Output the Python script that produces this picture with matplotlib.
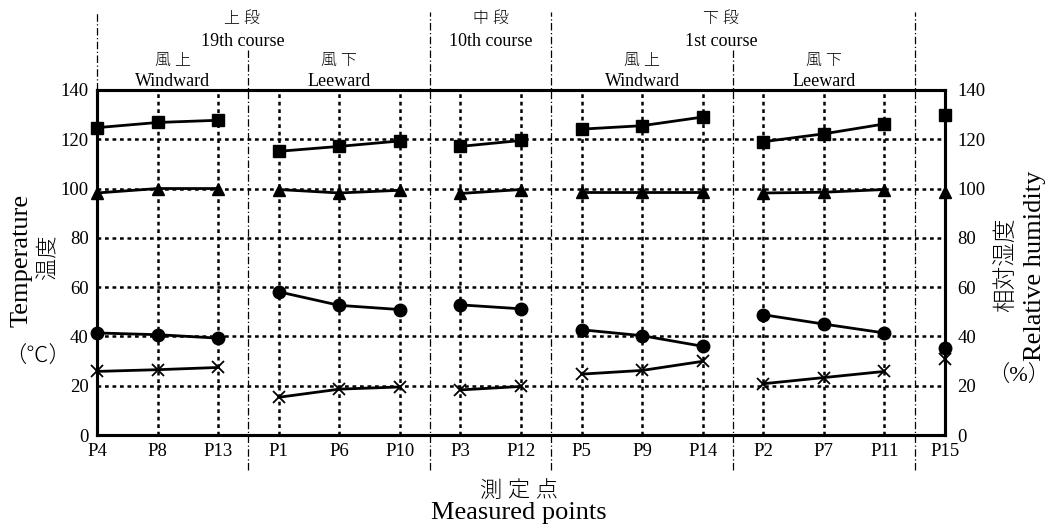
import matplotlib
matplotlib.use('Agg')
import matplotlib.pyplot as plt
import matplotlib.transforms as mtransforms

plt.rcParams['font.family'] = ['Liberation Serif', 'Noto Sans CJK JP', 'DejaVu Sans']

# measured points, in plotting order
points = ['P4', 'P8', 'P13', 'P1', 'P6', 'P10', 'P3', 'P12',
          'P5', 'P9', 'P14', 'P2', 'P7', 'P11', 'P15']
# lines are only drawn inside each group (start index, end index)
groups = [(0, 3), (3, 6), (6, 8), (8, 11), (11, 14), (14, 15)]

sq_vals = [124.7, 126.8, 127.7, 115.1, 117.1, 119.3, 117.1, 119.5,
           124.1, 125.5, 129.0, 119.0, 122.2, 126.2, 129.8]
tri_vals = [98.2, 100.0, 100.0, 99.6, 98.2, 99.3, 98.0, 99.6,
            98.6, 98.6, 98.6, 98.2, 98.5, 99.6, 98.6]
circ_vals = [41.4, 40.7, 39.3, 58.1, 52.6, 50.9, 52.8, 51.2,
             42.7, 40.3, 36.0, 48.8, 45.0, 41.4, 35.3]
cross_vals = [25.8, 26.5, 27.4, 15.3, 18.6, 19.5, 18.3, 19.7,
              24.7, 26.2, 29.9, 20.8, 23.3, 25.8, 30.9]

yticks = [0, 20, 40, 60, 80, 100, 120, 140]

# section headers: (x centre, jp, en)
sections = [(2.4, '上 段', '19th course'), (6.5, '中 段', '10th course'),
            (10.3, '下 段', '1st course')]
subsections = [(1.25, '風 上', 'Windward'), (4.0, '風 下', 'Leeward'),
               (9.0, '風 上', 'Windward'), (12.0, '風 下', 'Leeward')]
major_seps = [5.5, 7.5, 13.5]
minor_seps = [2.5, 10.5]

fig = plt.figure(figsize=(10.5, 5.26), dpi=100)
ax = fig.add_axes([0.0924, 0.173, 0.8076, 0.656])
ax2 = ax.twinx()

x = list(range(len(points)))
ax.set_xlim(0, len(points) - 1)
ax.set_ylim(0, 140)
ax2.set_ylim(0, 140)

# grid
for yv in yticks[1:-1]:
    ax.axhline(yv, color='black', lw=1.8, ls=(0, (1.5, 1.5)), zorder=1)
for xv in x[1:-1]:
    ax.axvline(xv, color='black', lw=1.8, ls=(0, (1.5, 1.5)), zorder=1)

# separators (dash-dot), some running past the frame
trans = mtransforms.blended_transform_factory(ax.transData, ax.transAxes)
dashdot = (0, (6, 2, 1, 2))
for xv in major_seps:
    ax.plot([xv, xv], [-0.10, 1.226], transform=trans, color='black', lw=0.9,
            ls=dashdot, clip_on=False, zorder=1)
for xv in minor_seps:
    ax.plot([xv, xv], [-0.10, 1.116], transform=trans, color='black', lw=0.9,
            ls=dashdot, clip_on=False, zorder=1)
ax.plot([0, 0], [1.0, 1.226], transform=trans, color='black', lw=0.9,
        ls=dashdot, clip_on=False, zorder=1)

# series
for s, e in groups:
    xs = x[s:e]
    ax.plot(xs, sq_vals[s:e], color='black', lw=2, marker='s', ms=9, clip_on=False, zorder=5)
    ax.plot(xs, tri_vals[s:e], color='black', lw=2, marker='^', ms=9, clip_on=False, zorder=5)
    ax.plot(xs, circ_vals[s:e], color='black', lw=2, marker='o', ms=9, clip_on=False, zorder=5)
    ax.plot(xs, cross_vals[s:e], color='black', lw=2, marker='x', ms=8, mew=1.3,
            clip_on=False, zorder=5)

ax.set_xticks(x)
ax.set_xticklabels(points)
ax.set_yticks(yticks)
ax2.set_yticks(yticks)
ax.tick_params(length=0, labelsize=13.5, pad=6)
ax2.tick_params(length=0, labelsize=13.5, pad=9)
for a in (ax, ax2):
    for sp in a.spines.values():
        sp.set_linewidth(2.2)

# headers
for xc, jp, en in sections:
    ax.text(xc, 1.205, jp, transform=trans, ha='center', va='center',
            fontsize=11.5, fontweight='light')
    ax.text(xc, 1.139, en, transform=trans, ha='center', va='center', fontsize=13)
for xc, jp, en in subsections:
    ax.text(xc, 1.083, jp, transform=trans, ha='center', va='center',
            fontsize=11.5, fontweight='light')
    ax.text(xc, 1.025, en, transform=trans, ha='center', va='center', fontsize=13)

# axis titles
fig.text(0.021, 0.505, 'Temperature', rotation=90, ha='center', va='center', fontsize=19)
fig.text(0.047, 0.511, '温度', rotation=90, ha='center', va='center',
         fontsize=16, fontweight='light')
fig.text(0.036, 0.32, '（℃）', ha='center', va='center', fontsize=16, fontweight='light')
fig.text(0.958, 0.497, '相対湿度', rotation=90, ha='center', va='center',
         fontsize=17, fontweight='light')
fig.text(0.986, 0.494, 'Relative humidity', rotation=90, ha='center', va='center', fontsize=19)
fig.text(0.97, 0.285, '（%）', ha='center', va='center', fontsize=16, fontweight='light')
fig.text(0.494, 0.066, '測 定 点', ha='center', va='center', fontsize=16, fontweight='light')
fig.text(0.494, 0.025, 'Measured points', ha='center', va='center', fontsize=19)

fig.savefig('out.png', dpi=100)
